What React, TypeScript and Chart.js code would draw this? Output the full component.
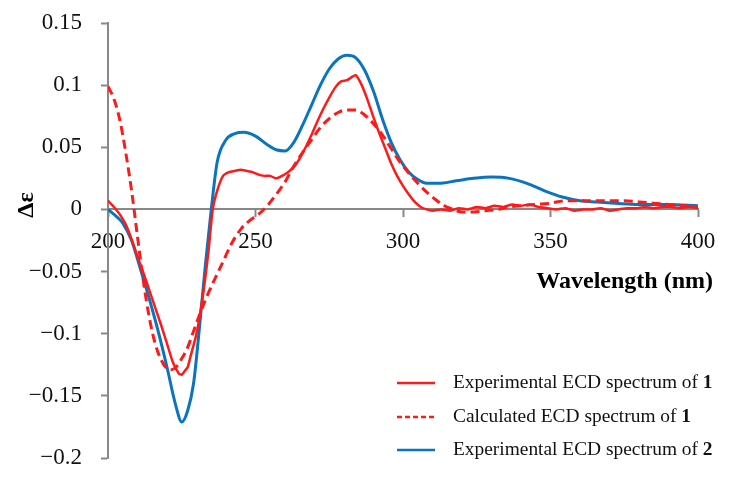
import React, { useEffect, useRef } from "react";
import { Chart, registerables } from "chart.js";

Chart.register(...registerables);

// ---- Data ----
const xTicks = [200, 250, 300, 350, 400];
const yTicks = [-0.2, -0.15, -0.1, -0.05, 0, 0.05, 0.1, 0.15];

const blueX = [200, 203, 205, 208, 211, 214, 217, 220, 223, 225, 227, 229, 231, 233, 235, 237, 240, 243, 246, 250, 254, 257, 260, 263, 266, 269, 272, 275, 278, 281, 284, 287, 290, 293, 296, 299, 302, 305, 308, 312, 318, 324, 330, 336, 342, 348, 354, 360, 366, 372, 380, 390, 400];
const blueY = [0, -0.006, -0.011, -0.025, -0.048, -0.072, -0.098, -0.127, -0.158, -0.171, -0.162, -0.14, -0.095, -0.045, 0, 0.038, 0.056, 0.061, 0.062, 0.059, 0.052, 0.048, 0.047, 0.054, 0.068, 0.084, 0.1, 0.113, 0.121, 0.124, 0.122, 0.112, 0.095, 0.073, 0.054, 0.04, 0.03, 0.024, 0.021, 0.021, 0.023, 0.025, 0.026, 0.025, 0.021, 0.015, 0.01, 0.007, 0.006, 0.005, 0.004, 0.004, 0.003];

const redX = [200, 202, 204, 206, 208, 210, 212, 214, 216, 218, 220, 222, 224, 225, 226, 227, 228, 230, 232, 234, 235.5, 237, 239, 241, 243, 245, 247, 249, 251, 253, 255, 257, 259, 261, 263, 265, 267, 269, 271, 273, 275, 277, 279, 281, 283, 284, 286, 288, 290, 292, 294, 296, 298, 300, 302, 304, 306, 308, 310, 313, 316, 319, 322, 325, 328, 331, 334, 337, 340, 343, 346, 349, 352, 355, 358, 361, 364, 367, 370, 373, 376, 379, 382, 385, 388, 391, 394, 397, 400];
const redY = [0.007, 0.002, -0.004, -0.012, -0.024, -0.038, -0.051, -0.065, -0.079, -0.093, -0.108, -0.123, -0.132, -0.133, -0.13, -0.127, -0.118, -0.1, -0.072, -0.035, 0, 0.015, 0.027, 0.03, 0.031, 0.032, 0.031, 0.03, 0.028, 0.027, 0.027, 0.025, 0.027, 0.03, 0.034, 0.041, 0.05, 0.06, 0.071, 0.081, 0.09, 0.098, 0.103, 0.104, 0.107, 0.108, 0.1, 0.088, 0.074, 0.061, 0.049, 0.037, 0.027, 0.019, 0.012, 0.006, 0.002, 0, -0.001, 0, -0.001, 0.001, 0, 0.002, 0.001, 0.003, 0.002, 0.004, 0.003, 0.004, 0.002, 0.001, 0, 0.001, -0.001, 0, 0, 0.001, -0.001, 0, 0.001, 0.001, 0.002, 0.001, 0.002, 0.002, 0.001, 0.002, 0.001];

const calcX = [200, 202, 204, 206, 208, 210, 212, 214, 216, 218, 220, 221.5, 223, 225, 227, 229, 231, 233, 236, 239, 242, 245, 248, 251, 254, 257, 260, 263, 266, 269, 272, 275, 278, 281, 284, 287, 290, 293, 296, 299, 302, 305, 308, 311, 314, 317, 320, 324, 328, 332, 336, 340, 345, 350, 355, 360, 365, 370, 375, 380, 385, 390, 395, 400];
const calcY = [0.099, 0.089, 0.072, 0.046, 0.015, -0.022, -0.058, -0.087, -0.108, -0.121, -0.128, -0.129, -0.127, -0.12, -0.111, -0.098, -0.085, -0.073, -0.057, -0.042, -0.027, -0.016, -0.009, -0.004, 0.003, 0.012, 0.022, 0.035, 0.046, 0.056, 0.066, 0.073, 0.078, 0.08, 0.08, 0.076, 0.069, 0.06, 0.049, 0.038, 0.029, 0.021, 0.014, 0.008, 0.003, 0, -0.002, -0.002, -0.001, 0, 0.002, 0.003, 0.004, 0.005, 0.007, 0.007, 0.007, 0.007, 0.007, 0.006, 0.005, 0.004, 0.003, 0.002];

const legendLabels = ["Experimental ECD spectrum of ", "Calculated ECD spectrum of ", "Experimental ECD spectrum of "];
const legendBold = ["1", "1", "2"];

const RED = "#ff1a1a";
const BLUE = "#0a75bd";
const AXIS = "#888888";
const FONT = "'Liberation Serif', 'Times New Roman', serif";

const toPts = (xs: number[], ys: number[]) => xs.map((x, i) => ({ x, y: ys[i] }));

const fmt = (v: number) => {
  const r = Math.round(v * 100) / 100;
  if (r === 0) return "0";
  const s = String(Math.abs(r));
  return r < 0 ? "\u2212" + s : s;
};

const zeroPad = (s: any) => {
  s.paddingTop = 0;
  s.paddingBottom = 0;
  s.paddingLeft = 0;
  s.paddingRight = 0;
};

const overlayPlugin = {
  id: "overlay",
  afterDraw(chart: any) {
    const ctx = chart.ctx as CanvasRenderingContext2D;
    ctx.save();
    ctx.fillStyle = "#000";
    ctx.font = `bold 24px ${FONT}`;
    ctx.textAlign = "center";
    ctx.textBaseline = "middle";
    ctx.translate(27, 205);
    ctx.rotate(-Math.PI / 2);
    ctx.fillText("\u0394\u03b5", 0, 0);
    ctx.restore();

    ctx.save();
    ctx.fillStyle = "#000";
    ctx.font = `bold 24px ${FONT}`;
    ctx.textAlign = "right";
    ctx.textBaseline = "middle";
    ctx.fillText("Wavelength (nm)", 713, 282);
    ctx.restore();

    const rows = [383, 417, 450];
    const styles = [
      { c: RED, d: [] as number[] },
      { c: RED, d: [5, 3] },
      { c: BLUE, d: [] as number[] },
    ];
    ctx.save();
    rows.forEach((y, i) => {
      ctx.strokeStyle = styles[i].c;
      ctx.lineWidth = 2.5;
      ctx.setLineDash(styles[i].d);
      ctx.beginPath();
      ctx.moveTo(397, y);
      ctx.lineTo(435, y);
      ctx.stroke();
      ctx.setLineDash([]);
      ctx.fillStyle = "#111";
      ctx.textAlign = "left";
      ctx.textBaseline = "middle";
      ctx.font = `19.4px ${FONT}`;
      ctx.fillText(legendLabels[i], 453, y);
      const w = ctx.measureText(legendLabels[i]).width;
      ctx.font = `bold 19.4px ${FONT}`;
      ctx.fillText(legendBold[i], 453 + w, y);
    });
    ctx.restore();
  },
};

export default function App() {
  const ref = useRef<HTMLCanvasElement>(null);
  useEffect(() => {
    if (!ref.current) return;
    const chart = new Chart(ref.current, {
      type: "line",
      data: {
        datasets: [
          {
            label: "Experimental ECD spectrum of 1",
            data: toPts(redX, redY),
            borderColor: RED,
            borderWidth: 2.5,
            pointRadius: 0,
            tension: 0.2,
            fill: false,
          },
          {
            label: "Calculated ECD spectrum of 1",
            data: toPts(calcX, calcY),
            borderColor: RED,
            borderWidth: 3,
            borderDash: [9, 5],
            pointRadius: 0,
            cubicInterpolationMode: "monotone",
            fill: false,
          },
          {
            label: "Experimental ECD spectrum of 2",
            data: toPts(blueX, blueY),
            borderColor: BLUE,
            borderWidth: 3,
            pointRadius: 0,
            cubicInterpolationMode: "monotone",
            fill: false,
          },
        ],
      },
      options: {
        animation: false,
        responsive: false,
        devicePixelRatio: 1,
        layout: { padding: { left: 0, right: 39, top: 23, bottom: 35 } },
        plugins: { legend: { display: false }, tooltip: { enabled: false } },
        scales: {
          x: {
            type: "linear",
            position: { y: 0 } as any,
            min: 200,
            max: 400,
            afterBuildTicks: (s: any) => {
              s.ticks = xTicks.map((v) => ({ value: v }));
            },
            afterFit: zeroPad,
            ticks: {
              color: "#111",
              font: { family: FONT, size: 23 },
              padding: 12,
              maxRotation: 0,
              callback: (v: any) => String(v),
            },
            grid: { display: true, drawOnChartArea: false, drawTicks: true, tickLength: 7, tickColor: AXIS, tickWidth: 2 },
            border: { display: true, color: AXIS, width: 2 },
          },
          y: {
            type: "linear",
            position: "left",
            min: -0.2,
            max: 0.15,
            afterBuildTicks: (s: any) => {
              s.ticks = yTicks.map((v) => ({ value: v }));
            },
            afterFit: (s: any) => {
              s.width = 108;
              zeroPad(s);
            },
            ticks: {
              color: "#111",
              font: { family: FONT, size: 23 },
              padding: 19,
              callback: (v: any) => fmt(Number(v)),
            },
            grid: { display: true, drawOnChartArea: false, drawTicks: true, tickLength: 7, tickColor: AXIS, tickWidth: 2 },
            border: { display: true, color: AXIS, width: 2 },
          },
        },
      },
      plugins: [overlayPlugin],
    });
    return () => chart.destroy();
  }, []);
  return (
    <div style={{ position: "fixed", left: 0, top: 0, width: 737, height: 493, background: "#fff" }}>
      <canvas ref={ref} width={737} height={493} style={{ width: 737, height: 493 }} />
    </div>
  );
}
